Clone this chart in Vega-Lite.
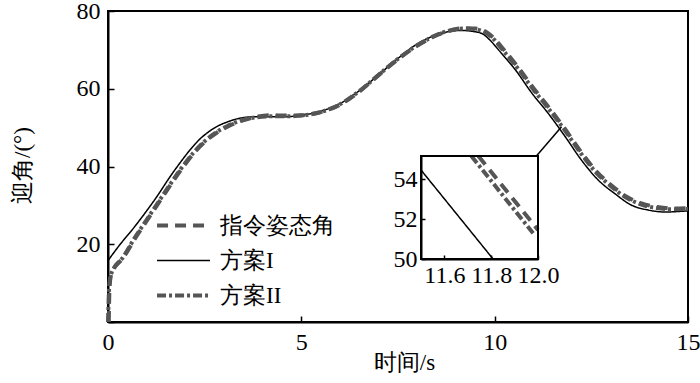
{
  "$schema": "https://vega.github.io/schema/vega-lite/v6.json",
  "width": 580,
  "height": 311,
  "autosize": "none",
  "padding": {"left": 108, "top": 11, "right": 12, "bottom": 61},
  "datasets": {
    "main": [
      {"series": "方案I", "t": 0.0, "v": 15.8},
      {"series": "方案I", "t": 0.3, "v": 19.8},
      {"series": "方案I", "t": 0.64, "v": 23.9},
      {"series": "方案I", "t": 1.0, "v": 28.6},
      {"series": "方案I", "t": 1.26, "v": 32.2},
      {"series": "方案I", "t": 1.6, "v": 37.3},
      {"series": "方案I", "t": 1.86, "v": 40.9},
      {"series": "方案I", "t": 2.1, "v": 44.0},
      {"series": "方案I", "t": 2.37, "v": 47.0},
      {"series": "方案I", "t": 2.6, "v": 48.9},
      {"series": "方案I", "t": 2.8, "v": 50.2},
      {"series": "方案I", "t": 3.1, "v": 51.5},
      {"series": "方案I", "t": 3.4, "v": 52.4},
      {"series": "方案I", "t": 3.8, "v": 52.8},
      {"series": "方案I", "t": 4.2, "v": 52.8},
      {"series": "方案I", "t": 4.6, "v": 52.8},
      {"series": "方案I", "t": 5.0, "v": 53.2},
      {"series": "方案I", "t": 5.5, "v": 54.2},
      {"series": "方案I", "t": 6.0, "v": 56.2},
      {"series": "方案I", "t": 6.5, "v": 59.5},
      {"series": "方案I", "t": 7.0, "v": 63.6},
      {"series": "方案I", "t": 7.5, "v": 67.8},
      {"series": "方案I", "t": 7.96, "v": 71.3},
      {"series": "方案I", "t": 8.4, "v": 73.5},
      {"series": "方案I", "t": 8.81, "v": 74.7},
      {"series": "方案I", "t": 9.15, "v": 75.0},
      {"series": "方案I", "t": 9.4, "v": 74.8},
      {"series": "方案I", "t": 9.67, "v": 74.2},
      {"series": "方案I", "t": 9.88, "v": 72.5},
      {"series": "方案I", "t": 10.1, "v": 70.0},
      {"series": "方案I", "t": 10.54, "v": 64.8},
      {"series": "方案I", "t": 10.96, "v": 58.9},
      {"series": "方案I", "t": 11.39, "v": 53.6},
      {"series": "方案I", "t": 11.83, "v": 47.6},
      {"series": "方案I", "t": 12.24, "v": 41.7},
      {"series": "方案I", "t": 12.68, "v": 36.5},
      {"series": "方案I", "t": 13.11, "v": 33.0},
      {"series": "方案I", "t": 13.53, "v": 30.1},
      {"series": "方案I", "t": 13.97, "v": 28.8},
      {"series": "方案I", "t": 14.4, "v": 28.3},
      {"series": "方案I", "t": 15.0, "v": 28.6},
      {"series": "指令姿态角", "t": 0.02, "v": 0},
      {"series": "指令姿态角", "t": 0.04, "v": 9},
      {"series": "指令姿态角", "t": 0.09, "v": 12.4},
      {"series": "指令姿态角", "t": 0.4, "v": 16.6},
      {"series": "指令姿态角", "t": 0.7, "v": 21.5},
      {"series": "指令姿态角", "t": 1.0, "v": 26.0},
      {"series": "指令姿态角", "t": 1.3, "v": 30.5},
      {"series": "指令姿态角", "t": 1.6, "v": 35.0},
      {"series": "指令姿态角", "t": 1.9, "v": 39.3},
      {"series": "指令姿态角", "t": 2.2, "v": 43.2},
      {"series": "指令姿态角", "t": 2.5, "v": 46.3},
      {"series": "指令姿态角", "t": 2.8, "v": 48.6},
      {"series": "指令姿态角", "t": 3.1, "v": 50.3},
      {"series": "指令姿态角", "t": 3.4, "v": 51.6},
      {"series": "指令姿态角", "t": 3.8, "v": 52.7},
      {"series": "指令姿态角", "t": 4.2, "v": 53.2},
      {"series": "指令姿态角", "t": 4.6, "v": 53.1},
      {"series": "指令姿态角", "t": 5.0, "v": 53.2},
      {"series": "指令姿态角", "t": 5.5, "v": 54.0},
      {"series": "指令姿态角", "t": 6.0, "v": 55.9},
      {"series": "指令姿态角", "t": 6.5, "v": 59.3},
      {"series": "指令姿态角", "t": 7.0, "v": 63.5},
      {"series": "指令姿态角", "t": 7.5, "v": 67.6},
      {"series": "指令姿态角", "t": 8.0, "v": 71.1},
      {"series": "指令姿态角", "t": 8.4, "v": 73.3},
      {"series": "指令姿态角", "t": 8.8, "v": 74.8},
      {"series": "指令姿态角", "t": 9.2, "v": 75.6},
      {"series": "指令姿态角", "t": 9.5, "v": 75.5},
      {"series": "指令姿态角", "t": 9.8, "v": 74.5},
      {"series": "指令姿态角", "t": 10.0, "v": 72.8},
      {"series": "指令姿态角", "t": 10.2, "v": 70.5},
      {"series": "指令姿态角", "t": 10.6, "v": 65.6},
      {"series": "指令姿态角", "t": 11.0, "v": 60.2},
      {"series": "指令姿态角", "t": 11.4, "v": 55.2},
      {"series": "指令姿态角", "t": 11.8, "v": 49.9},
      {"series": "指令姿态角", "t": 12.2, "v": 44.2},
      {"series": "指令姿态角", "t": 12.6, "v": 39.1},
      {"series": "指令姿态角", "t": 13.0, "v": 35.3},
      {"series": "指令姿态角", "t": 13.4, "v": 32.3},
      {"series": "指令姿态角", "t": 13.8, "v": 30.5},
      {"series": "指令姿态角", "t": 14.2, "v": 29.6},
      {"series": "指令姿态角", "t": 14.6, "v": 29.2},
      {"series": "指令姿态角", "t": 15.0, "v": 29.3},
      {"series": "方案II", "t": 0.0, "v": 0},
      {"series": "方案II", "t": 0.03, "v": 9},
      {"series": "方案II", "t": 0.08, "v": 12.3},
      {"series": "方案II", "t": 0.4, "v": 16.8},
      {"series": "方案II", "t": 0.7, "v": 21.8},
      {"series": "方案II", "t": 1.0, "v": 26.3},
      {"series": "方案II", "t": 1.3, "v": 30.8},
      {"series": "方案II", "t": 1.6, "v": 35.3},
      {"series": "方案II", "t": 1.9, "v": 39.6},
      {"series": "方案II", "t": 2.2, "v": 43.4},
      {"series": "方案II", "t": 2.5, "v": 46.5},
      {"series": "方案II", "t": 2.8, "v": 48.8},
      {"series": "方案II", "t": 3.1, "v": 50.5},
      {"series": "方案II", "t": 3.4, "v": 51.7},
      {"series": "方案II", "t": 3.8, "v": 52.6},
      {"series": "方案II", "t": 4.2, "v": 52.9},
      {"series": "方案II", "t": 4.6, "v": 52.9},
      {"series": "方案II", "t": 5.0, "v": 53.1},
      {"series": "方案II", "t": 5.5, "v": 54.0},
      {"series": "方案II", "t": 6.0, "v": 56.0},
      {"series": "方案II", "t": 6.5, "v": 59.4},
      {"series": "方案II", "t": 7.0, "v": 63.6},
      {"series": "方案II", "t": 7.5, "v": 67.7},
      {"series": "方案II", "t": 8.0, "v": 71.2},
      {"series": "方案II", "t": 8.4, "v": 73.4},
      {"series": "方案II", "t": 8.8, "v": 74.9},
      {"series": "方案II", "t": 9.2, "v": 75.5},
      {"series": "方案II", "t": 9.5, "v": 75.3},
      {"series": "方案II", "t": 9.8, "v": 74.2},
      {"series": "方案II", "t": 10.0, "v": 72.5},
      {"series": "方案II", "t": 10.2, "v": 70.1},
      {"series": "方案II", "t": 10.6, "v": 65.2},
      {"series": "方案II", "t": 11.0, "v": 59.8},
      {"series": "方案II", "t": 11.4, "v": 54.8},
      {"series": "方案II", "t": 11.8, "v": 49.5},
      {"series": "方案II", "t": 12.2, "v": 43.8},
      {"series": "方案II", "t": 12.6, "v": 38.7},
      {"series": "方案II", "t": 13.0, "v": 35.0},
      {"series": "方案II", "t": 13.4, "v": 32.0},
      {"series": "方案II", "t": 13.8, "v": 30.2},
      {"series": "方案II", "t": 14.2, "v": 29.3},
      {"series": "方案II", "t": 14.6, "v": 29.0},
      {"series": "方案II", "t": 15.0, "v": 29.1}
    ],
    "connector": [
      {"t": 11.08, "v": 42.7, "t2": 11.73, "v2": 50.2}
    ],
    "insetBox": [
      {"t": 11.5, "t2": 12.0, "v": 50, "v2": 55.15}
    ],
    "inset": [
      {"series": "方案I", "t": 11.5, "v": 54.45},
      {"series": "方案I", "t": 11.808, "v": 50.0},
      {"series": "指令姿态角", "t": 11.745, "v": 55.15},
      {"series": "指令姿态角", "t": 12.0, "v": 51.45},
      {"series": "方案II", "t": 11.715, "v": 55.15},
      {"series": "方案II", "t": 11.985, "v": 51.2}
    ]
  },
  "layer": [
    {
      "layer": [
        {
          "data": {"name": "main"},
          "mark": {"type": "line", "interpolate": "monotone"},
          "encoding": {
            "x": {"field": "t", "type": "quantitative", "title": "时间/s",
              "scale": {"domain": [0, 15], "nice": false, "zero": false},
              "axis": {"values": [0, 5, 10, 15], "tickSize": -6, "labelPadding": 14, "labelFlush": false,
                "titleX": 296, "titleY": 40, "titleBaseline": "middle", "titleAlign": "center"}},
            "y": {"field": "v", "type": "quantitative", "title": "迎角/(°)",
              "scale": {"domain": [0, 80], "nice": false},
              "axis": {"values": [0, 10, 20, 30, 40, 50, 60, 70, 80], "tickSize": -6, "labelPadding": 14,
                "labelExpr": "datum.value % 20 == 0 && datum.value > 0 ? datum.label : ''",
                "titleX": -86, "titleY": 154, "titleAngle": -90, "titleBaseline": "middle", "titleAlign": "center"}},
            "color": {"field": "series", "type": "nominal",
              "scale": {"domain": ["指令姿态角", "方案I", "方案II"], "range": ["#555555", "#000000", "#555555"]},
              "legend": {"orient": "none", "legendX": 47, "legendY": 197, "title": null}},
            "strokeDash": {"field": "series", "type": "nominal",
              "scale": {"domain": ["指令姿态角", "方案I", "方案II"], "range": [[11, 7], [1, 0], [9, 3, 3, 3]]},
              "legend": {"orient": "none", "legendX": 47, "legendY": 197, "title": null}},
            "strokeWidth": {"field": "series", "type": "nominal",
              "scale": {"type": "ordinal", "domain": ["指令姿态角", "方案I", "方案II"], "range": [4, 1.5, 4]},
              "legend": {"orient": "none", "legendX": 47, "legendY": 197, "title": null}}
          }
        },
        {
          "data": {"name": "connector"},
          "mark": {"type": "rule", "color": "black", "strokeWidth": 1.5},
          "encoding": {
            "x": {"field": "t", "type": "quantitative"},
            "y": {"field": "v", "type": "quantitative"},
            "x2": {"field": "t2"},
            "y2": {"field": "v2"}
          }
        }
      ]
    },
    {
      "layer": [
        {
          "data": {"name": "inset"},
          "mark": {"type": "line"},
          "encoding": {
            "x": {"field": "t", "type": "quantitative", "title": null,
              "scale": {"domain": [11.5, 12.0], "range": [313, 430], "nice": false, "zero": false},
              "axis": {"orient": "bottom", "offset": -63, "values": [11.6, 11.8, 12.0], "format": ".1f",
                "tickSize": -4, "labelPadding": 8, "labelFlush": false}},
            "y": {"field": "v", "type": "quantitative", "title": null,
              "scale": {"domain": [50, 55.15], "range": [248, 145], "nice": false, "zero": false},
              "axis": {"orient": "left", "offset": -313, "values": [50, 52, 54], "format": "d",
                "tickSize": -4, "labelPadding": 8}},
            "color": {"field": "series", "type": "nominal",
              "scale": {"domain": ["指令姿态角", "方案I", "方案II"], "range": ["#555555", "#000000", "#555555"]},
              "legend": {"orient": "none", "legendX": 47, "legendY": 197, "title": null}},
            "strokeDash": {"field": "series", "type": "nominal",
              "scale": {"domain": ["指令姿态角", "方案I", "方案II"], "range": [[11, 7], [1, 0], [9, 3, 3, 3]]},
              "legend": {"orient": "none", "legendX": 47, "legendY": 197, "title": null}},
            "strokeWidth": {"field": "series", "type": "nominal",
              "scale": {"type": "ordinal", "domain": ["指令姿态角", "方案I", "方案II"], "range": [4, 1.5, 4]},
              "legend": {"orient": "none", "legendX": 47, "legendY": 197, "title": null}}
          }
        },
        {
          "data": {"name": "insetBox"},
          "mark": {"type": "rect", "fill": null, "stroke": "black", "strokeWidth": 2},
          "encoding": {
            "x": {"field": "t", "type": "quantitative"},
            "x2": {"field": "t2"},
            "y": {"field": "v", "type": "quantitative"},
            "y2": {"field": "v2"}
          }
        }
      ]
    }
  ],
  "resolve": {
    "scale": {"x": "independent", "y": "independent"},
    "axis": {"x": "independent", "y": "independent"}
  },
  "config": {
    "view": {"stroke": "black", "strokeWidth": 2},
    "axis": {
      "grid": false,
      "domainColor": "black",
      "domainWidth": 2,
      "tickColor": "black",
      "tickWidth": 1.5,
      "labelFont": "Liberation Serif",
      "labelFontSize": 24,
      "labelColor": "black",
      "titleFont": "Liberation Serif",
      "titleFontSize": 23,
      "titleFontWeight": "normal",
      "titleColor": "black",
      "labelOverlap": false
    },
    "legend": {
      "symbolType": "stroke",
      "symbolSize": 2800,
      "clipHeight": 35,
      "labelFont": "Liberation Serif",
      "labelFontSize": 23,
      "labelColor": "black",
      "labelOffset": 8,
      "rowPadding": 0,
      "padding": 0
    }
  }
}
